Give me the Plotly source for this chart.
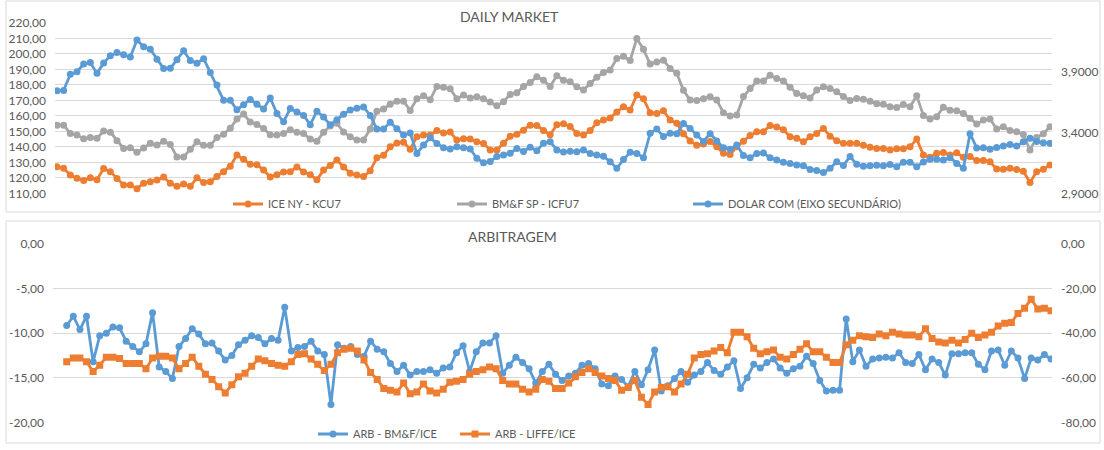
import plotly.graph_objects as go

# ---------------- DATA ----------------
ice_ny_kcu7 = [127.2, 126.1, 121.8, 119.7, 118.2, 120.0, 118.8, 126.0, 124.0, 119.5,
               115.4, 115.4, 113.0, 116.5, 117.5, 118.6, 120.5, 116.5, 114.5, 116.0,
               114.5, 120.0, 117.0, 117.5, 120.8, 124.0, 127.5, 134.7, 132.0, 128.8,
               128.5, 125.0, 120.5, 122.0, 123.8, 124.0, 127.0, 123.8, 122.0, 118.8,
               125.0, 128.0, 131.5, 127.0, 122.9, 121.8, 120.8, 124.5, 133.0, 134.5,
               140.0, 142.5, 143.0, 138.5, 146.6, 147.6, 147.6, 150.5, 149.0, 149.6,
               144.4, 145.2, 145.0, 143.3, 142.2, 138.0, 138.0, 142.3, 146.9, 148.1,
               150.8, 154.0, 153.8, 150.5, 147.8, 154.3, 155.0, 153.2, 148.7, 147.6,
               150.5, 155.6, 157.3, 158.7, 162.5, 165.9, 163.8, 173.5, 171.0, 162.0,
               161.6, 163.3, 157.3, 155.2, 148.5, 143.8, 141.0, 141.8, 143.5, 140.0,
               135.8, 135.0, 140.0, 143.7, 147.3, 149.8, 149.8, 153.8, 152.9, 151.1,
               146.6, 145.5, 143.3, 146.5, 148.7, 151.9, 146.9, 144.0, 142.3, 142.3,
               142.3, 141.0, 139.8, 139.0, 139.0, 138.0, 138.7, 138.7, 140.0, 145.0,
               134.8, 133.3, 135.8, 136.4, 134.7, 136.2, 133.3, 133.7, 131.2, 131.2,
               130.4, 125.7, 125.6, 126.1, 125.3, 124.2, 117.0, 124.0, 125.5, 128.3]

bmf_sp_icfu7 = [154.0, 154.0, 148.7, 147.6, 145.3, 146.0, 145.5, 150.2, 149.5, 144.0,
                139.0, 139.5, 136.5, 139.2, 142.3, 141.2, 143.6, 141.5, 133.5, 133.5,
                138.5, 143.3, 141.0, 141.0, 146.0, 148.2, 152.0, 158.0, 161.2, 156.0,
                154.5, 151.8, 147.8, 147.6, 148.7, 151.0, 149.5, 148.6, 145.0, 143.6,
                149.5, 153.5, 155.2, 149.6, 146.5, 144.4, 144.4, 151.5, 163.0, 164.5,
                167.5, 169.5, 169.5, 163.5, 171.0, 173.0, 170.5, 179.0, 178.5, 177.5,
                171.0, 173.5, 171.5, 172.4, 171.0, 169.0, 166.5, 169.2, 173.8, 175.0,
                179.0, 181.5, 185.3, 183.0, 179.0, 186.0, 183.1, 182.0, 178.8, 176.7,
                181.0, 185.0, 188.0, 189.6, 197.0, 198.5, 195.8, 210.0, 203.0, 193.5,
                194.8, 196.0, 190.6, 187.5, 176.5, 170.2, 170.0, 171.0, 172.4, 170.2,
                162.0, 160.0, 160.5, 172.5, 177.7, 182.5, 182.5, 186.3, 184.2, 182.5,
                178.5, 174.5, 173.0, 171.5, 176.7, 178.8, 177.7, 175.6, 172.5, 170.0,
                171.3, 170.8, 169.5, 167.8, 167.5, 165.9, 165.5, 167.3, 165.9, 173.0,
                160.2, 158.0, 159.5, 165.6, 163.6, 163.4, 161.6, 158.5, 154.7, 157.3,
                158.0, 151.5, 153.0, 150.6, 149.8, 148.0, 138.0, 146.0, 148.5, 153.0]

dolar_com = [3.743, 3.746, 3.878, 3.899, 3.963, 3.975, 3.886, 3.972, 4.030, 4.058,
             4.039, 4.020, 4.160, 4.105, 4.084, 4.001, 3.926, 3.928, 3.998, 4.071,
             3.992, 3.969, 4.007, 3.893, 3.791, 3.664, 3.664, 3.587, 3.628, 3.671,
             3.632, 3.594, 3.683, 3.555, 3.488, 3.597, 3.569, 3.540, 3.464, 3.575,
             3.527, 3.463, 3.505, 3.549, 3.585, 3.600, 3.610, 3.540, 3.428, 3.428,
             3.485, 3.431, 3.379, 3.396, 3.228, 3.298, 3.356, 3.310, 3.275, 3.265,
             3.282, 3.274, 3.264, 3.188, 3.151, 3.161, 3.202, 3.214, 3.230, 3.269,
             3.244, 3.279, 3.250, 3.312, 3.323, 3.256, 3.239, 3.246, 3.242, 3.256,
             3.228, 3.214, 3.205, 3.160, 3.106, 3.177, 3.237, 3.228, 3.193, 3.393,
             3.428, 3.366, 3.394, 3.390, 3.473, 3.433, 3.379, 3.326, 3.390, 3.330,
             3.275, 3.263, 3.297, 3.211, 3.193, 3.228, 3.231, 3.193, 3.174, 3.155,
             3.144, 3.133, 3.127, 3.096, 3.087, 3.071, 3.105, 3.160, 3.129, 3.202,
             3.138, 3.123, 3.127, 3.130, 3.127, 3.137, 3.119, 3.156, 3.156, 3.119,
             3.157, 3.179, 3.180, 3.174, 3.193, 3.146, 3.105, 3.390, 3.273, 3.275,
             3.263, 3.277, 3.289, 3.301, 3.289, 3.324, 3.352, 3.325, 3.315, 3.311]

arb_bmf_ice = [-9.15, -8.1, -9.6, -8.1, -13.2, -10.3, -10.0, -9.3, -9.4, -10.9,
               -11.5, -12.1, -11.2, -7.7, -13.8, -14.3, -15.1, -11.5, -10.6, -9.5,
               -10.1, -11.2, -11.1, -12.0, -13.0, -12.5, -11.3, -10.8, -10.3, -10.5,
               -11.2, -10.6, -10.8, -7.1, -12.0, -11.6, -11.5, -10.9, -12.0, -12.4,
               -18.0, -11.3, -11.7, -11.5, -12.4, -12.6, -10.9, -11.8, -12.1, -13.4,
               -14.3, -13.6, -14.7, -14.3, -14.3, -14.1, -14.5, -13.9, -13.8, -12.2,
               -11.4, -14.3, -12.1, -11.1, -11.1, -10.3, -14.5, -13.6, -12.7, -13.3,
               -14.0, -15.6, -14.3, -13.5, -14.6, -15.3, -14.8, -14.5, -13.6, -13.4,
               -14.0, -15.7, -15.9, -14.8, -15.2, -16.0, -14.3, -15.8, -14.1, -11.9,
               -16.5, -15.9, -15.1, -14.3, -15.5, -14.7, -14.3, -13.3, -14.2, -14.6,
               -13.8, -13.1, -16.2, -15.0, -13.5, -13.9, -13.3, -12.9, -13.9, -14.5,
               -14.0, -13.7, -12.6, -13.4, -15.3, -16.5, -16.4, -16.4, -8.4, -13.2,
               -11.9, -13.7, -12.9, -12.8, -12.7, -12.8, -12.2, -13.3, -13.4, -12.4,
               -14.1, -12.9, -13.3, -14.7, -12.3, -12.3, -12.2, -12.2, -13.5, -14.1,
               -12.0, -11.9, -13.6, -12.0, -12.8, -15.1, -12.8, -13.0, -12.4, -12.9]

arb_liffe_ice = [-52.8, -51.2, -51.2, -52.8, -57.2, -54.4, -50.8, -50.8, -51.4, -53.6,
                 -53.6, -53.6, -56.0, -51.2, -50.4, -50.4, -51.2, -56.0, -53.6, -50.8,
                 -54.8, -58.4, -60.8, -64.0, -66.8, -63.2, -59.6, -58.0, -54.8, -51.6,
                 -52.4, -53.6, -54.4, -54.8, -52.8, -49.6, -49.2, -51.6, -54.0, -56.8,
                 -54.0, -48.8, -47.2, -46.8, -48.0, -52.0, -57.6, -60.8, -64.8, -65.6,
                 -66.4, -62.4, -67.2, -66.4, -62.8, -66.0, -66.8, -65.2, -62.0, -61.6,
                 -60.8, -58.4, -57.2, -56.4, -55.2, -56.0, -61.2, -62.8, -62.8, -65.2,
                 -66.4, -65.2, -60.8, -61.6, -64.8, -64.8, -62.4, -59.6, -57.6, -56.0,
                 -57.6, -59.2, -60.4, -61.2, -65.6, -64.4, -61.2, -68.8, -72.0, -66.4,
                 -64.4, -64.0, -66.4, -62.8, -58.4, -51.2, -49.6, -49.2, -48.0, -46.4,
                 -48.8, -39.6, -39.6, -41.6, -46.8, -49.2, -48.4, -47.6, -50.8, -51.6,
                 -49.6, -47.2, -44.8, -48.4, -48.4, -50.8, -53.2, -53.2, -45.2, -43.2,
                 -41.2, -41.6, -42.0, -40.4, -41.2, -39.6, -40.4, -40.8, -40.8, -41.6,
                 -38.0, -42.4, -44.0, -44.4, -43.2, -44.4, -42.8, -40.0, -42.0, -40.8,
                 -39.6, -36.8, -35.6, -35.2, -31.2, -28.8, -24.8, -29.2, -28.8, -30.0]

left_top_ticks = [110, 120, 130, 140, 150, 160, 170, 180, 190, 200, 210, 220]
right_top_ticks = [2.9, 3.4, 3.9]
left_bot_ticks = [-20, -15, -10, -5, 0]
right_bot_ticks = [-80, -60, -40, -20, 0]

# ---------------- STYLE ----------------
W, H = 1104, 450
FONT = "Lato"
TXT = "#595959"
GRID = "#D9D9D9"
ORANGE = "#ED7D31"
GRAY = "#A5A5A5"
BLUE = "#5B9BD5"


def px_x(p):
    return p / W


def px_y(p):
    return 1 - p / H


def fmt(v, d):
    return f"{v:.{d}f}".replace(".", ",")


x_top = list(range(len(ice_ny_kcu7)))
x_bot = list(range(len(arb_bmf_ice)))

fig = go.Figure()
line_w = 2.8
msize = 7

fig.add_trace(go.Scatter(x=x_top, y=ice_ny_kcu7, name="ICE NY - KCU7", mode="lines+markers",
                         line=dict(color=ORANGE, width=line_w), marker=dict(color=ORANGE, size=msize),
                         xaxis="x", yaxis="y", legend="legend"))
fig.add_trace(go.Scatter(x=list(range(len(bmf_sp_icfu7))), y=bmf_sp_icfu7, name="BM&F SP - ICFU7",
                         mode="lines+markers", line=dict(color=GRAY, width=line_w),
                         marker=dict(color=GRAY, size=msize), xaxis="x", yaxis="y", legend="legend2"))
fig.add_trace(go.Scatter(x=list(range(len(dolar_com))), y=dolar_com, name="DOLAR COM (EIXO SECUNDÁRIO)",
                         mode="lines+markers", line=dict(color=BLUE, width=line_w),
                         marker=dict(color=BLUE, size=msize), xaxis="x", yaxis="y2", legend="legend3"))
fig.add_trace(go.Scatter(x=x_bot, y=arb_bmf_ice, name="ARB - BM&F/ICE", mode="lines+markers",
                         line=dict(color=BLUE, width=line_w), marker=dict(color=BLUE, size=msize),
                         xaxis="x2", yaxis="y3", legend="legend4"))
fig.add_trace(go.Scatter(x=list(range(len(arb_liffe_ice))), y=arb_liffe_ice, name="ARB - LIFFE/ICE",
                         mode="lines+markers", line=dict(color=ORANGE, width=line_w),
                         marker=dict(color=ORANGE, size=msize, symbol="square"),
                         xaxis="x2", yaxis="y4", legend="legend5"))

top_d0, top_d1 = 55, 1052
nt = len(ice_ny_kcu7) - 1
st = (1050 - 57) / nt
bot_d0, bot_d1 = 53, 1052
nb = len(arb_bmf_ice) - 1
sb = (1051 - 66.7) / nb

axis_font = dict(family=FONT, size=12, color=TXT)

fig.update_layout(
    width=W, height=H,
    template="none",
    margin=dict(l=0, r=0, t=0, b=0, pad=0),
    paper_bgcolor="white", plot_bgcolor="rgba(0,0,0,0)",
    font=dict(family=FONT, size=11, color=TXT),
    showlegend=True,
    xaxis=dict(domain=[px_x(top_d0), px_x(top_d1)],
               range=[-(57 - top_d0) / st, nt + (top_d1 - 1050) / st],
               visible=False, anchor="y"),
    xaxis2=dict(domain=[px_x(bot_d0), px_x(bot_d1)],
                range=[-(66.7 - bot_d0) / sb, nb + (bot_d1 - 1051) / sb],
                visible=False, anchor="y3"),
    yaxis=dict(domain=[px_y(193.3), px_y(23)], range=[110, 220], anchor="x",
               tickmode="array", tickvals=left_top_ticks,
               ticktext=[fmt(v, 2) for v in left_top_ticks],
               showgrid=True, gridcolor=GRID, gridwidth=1, zeroline=False, showline=False,
               ticks="", ticklabelstandoff=8, tickfont=axis_font),
    yaxis2=dict(overlaying="y", side="right", anchor="x", range=[2.9, 4.3],
                tickmode="array", tickvals=right_top_ticks,
                ticktext=[fmt(v, 4) for v in right_top_ticks],
                showgrid=False, zeroline=False, showline=False,
                ticks="", ticklabelstandoff=8, tickfont=axis_font),
    yaxis3=dict(domain=[px_y(422.3), px_y(244)], range=[-20, 0], anchor="x2",
                tickmode="array", tickvals=left_bot_ticks,
                ticktext=[fmt(v, 2) for v in left_bot_ticks],
                showgrid=True, gridcolor=GRID, gridwidth=1, zeroline=False, showline=False,
                ticks="", ticklabelstandoff=8, tickfont=axis_font),
    yaxis4=dict(overlaying="y3", side="right", anchor="x2", range=[-80, 0],
                tickmode="array", tickvals=right_bot_ticks,
                ticktext=[fmt(v, 2) for v in right_bot_ticks],
                showgrid=False, zeroline=False, showline=False,
                ticks="", ticklabelstandoff=8, tickfont=axis_font),
)

leg_common = dict(orientation="h", xanchor="left", yanchor="middle",
                  bgcolor="rgba(0,0,0,0)", borderwidth=0,
                  font=dict(family=FONT, size=11, color=TXT), itemwidth=30)
fig.update_layout(
    legend=dict(x=px_x(228), y=px_y(204), **leg_common),
    legend2=dict(x=px_x(452), y=px_y(204), **leg_common),
    legend3=dict(x=px_x(688), y=px_y(204), **leg_common),
    legend4=dict(x=px_x(313), y=px_y(434), **leg_common),
    legend5=dict(x=px_x(455), y=px_y(434), **leg_common),
)

# Panel borders
for (y0, y1) in [(1, 212), (221, 443)]:
    fig.add_shape(type="rect", xref="paper", yref="paper",
                  x0=px_x(6), x1=px_x(1100), y0=px_y(y1), y1=px_y(y0),
                  line=dict(color=GRID, width=1), fillcolor="rgba(0,0,0,0)", layer="below")

# Titles
fig.add_annotation(text="DAILY MARKET", xref="paper", yref="paper", x=px_x(509), y=px_y(16),
                   showarrow=False, xanchor="center", yanchor="middle",
                   font=dict(family=FONT, size=14, color=TXT))
fig.add_annotation(text="ARBITRAGEM", xref="paper", yref="paper", x=px_x(512), y=px_y(237),
                   showarrow=False, xanchor="center", yanchor="middle",
                   font=dict(family=FONT, size=14, color=TXT))

fig.write_html("out.html", config={"displayModeBar": False},
               post_script="document.body.style.margin='0px';")
